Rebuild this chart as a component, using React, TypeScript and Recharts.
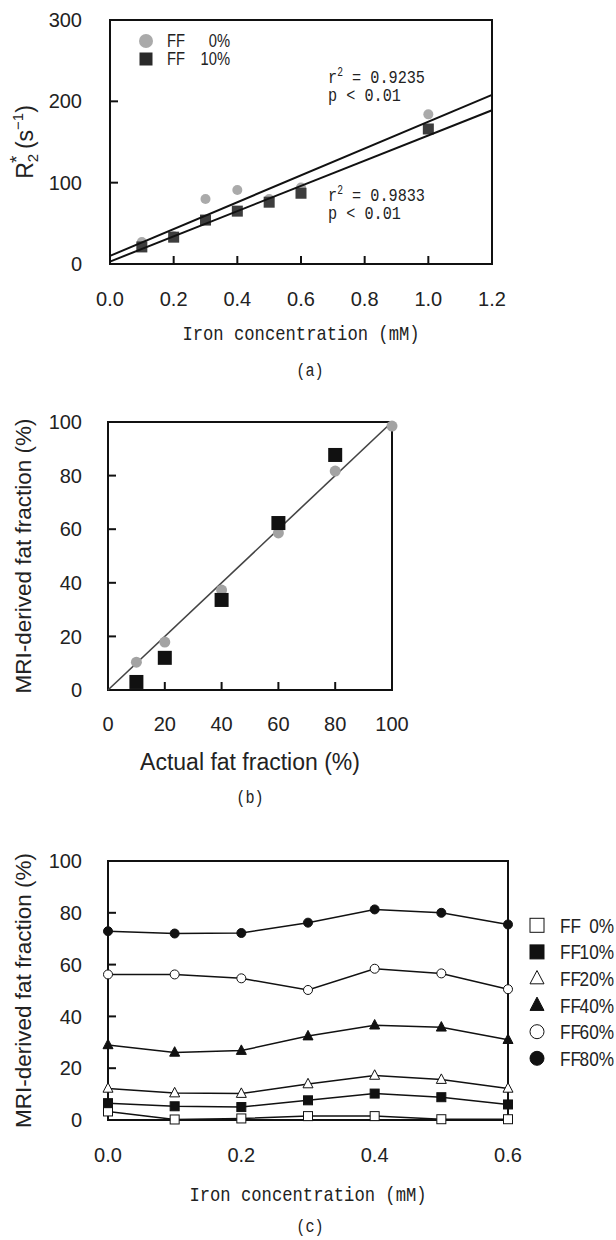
import React from 'react';
import {
  ScatterChart, Scatter, LineChart, Line, XAxis, YAxis,
  ReferenceArea, ReferenceDot, Legend, Label,
} from 'recharts';

// (a) R2* against iron concentration
const ironA = [0.1, 0.2, 0.3, 0.4, 0.5, 0.6, 1.0];
const r2FF0 = [27, 34, 80, 91, 80, 94, 184];
const r2FF10 = [21, 33, 54, 65, 76, 87, 166];
const fitXA = [0, 1.2];
const fitFF0 = [10, 208];
const fitFF10 = [3, 189];
const ticksAX = [0, 0.2, 0.4, 0.6, 0.8, 1.0, 1.2];
const ticksAY = [0, 100, 200, 300];
const levelsA = ['0%', '10%'];

// (b) MRI-derived vs actual fat fraction
const actualB = [10, 20, 40, 60, 80, 100];
const mriB0 = [10.4, 17.9, 37.3, 58.6, 81.7, 98.5];
const actualB10 = [10, 20, 40, 60, 80];
const mriB10 = [3, 12, 33.6, 62.3, 87.7];
const identityB = [0, 100];
const ticksB = [0, 20, 40, 60, 80, 100];

// (c) MRI-derived fat fraction against iron concentration
const ironC = [0, 0.1, 0.2, 0.3, 0.4, 0.5, 0.6];
const ff0 = [3.3, 0.2, 0.6, 1.5, 1.5, 0.3, 0.3];
const ff10 = [6.5, 5.3, 5.0, 7.6, 10.2, 8.8, 6.0];
const ff20 = [12.2, 10.4, 10.2, 13.9, 17.2, 15.6, 12.2];
const ff40 = [29.0, 26.1, 26.8, 32.4, 36.6, 35.8, 31.0];
const ff60 = [56.2, 56.2, 54.7, 50.2, 58.4, 56.6, 50.5];
const ff80 = [72.9, 72.0, 72.2, 76.2, 81.3, 80.0, 75.5];
const levelsC = ['0%', '10%', '20%', '40%', '60%', '80%'];
const ticksCX = [0, 0.2, 0.4, 0.6];
const ticksCY = [0, 20, 40, 60, 80, 100];

const INK = '#111';
const SANS = "'Liberation Sans', Arial, sans-serif";
const MONO = "'Liberation Mono', 'DejaVu Sans Mono', monospace";
const tickStyle = { fill: '#222', fontSize: 20, fontFamily: SANS };

const pts = (xs: number[], ys: number[]) => xs.map((x, i) => ({ x, y: ys[i] }));

const rowsC = ironC.map((x, i) => ({
  x, ff0: ff0[i], ff10: ff10[i], ff20: ff20[i], ff40: ff40[i], ff60: ff60[i], ff80: ff80[i],
}));

type Kind = 'circle' | 'square' | 'triangle';
const markersC: { key: string; kind: Kind; filled: boolean }[] = [
  { key: 'ff0', kind: 'square', filled: false },
  { key: 'ff10', kind: 'square', filled: true },
  { key: 'ff20', kind: 'triangle', filled: false },
  { key: 'ff40', kind: 'triangle', filled: true },
  { key: 'ff60', kind: 'circle', filled: false },
  { key: 'ff80', kind: 'circle', filled: true },
];

const Marker = ({ kind, fill, cx, cy, s, stroke = INK }: any) => {
  if (kind === 'circle') return <circle cx={cx} cy={cy} r={s / 2} fill={fill} stroke={stroke} strokeWidth={1} />;
  if (kind === 'square') return <rect x={cx - s / 2} y={cy - s / 2} width={s} height={s} fill={fill} stroke={stroke} strokeWidth={1} />;
  const h = s * 0.95;
  return (
    <polygon
      points={`${cx},${cy - h * 0.6} ${cx - s / 2},${cy + h * 0.4} ${cx + s / 2},${cy + h * 0.4}`}
      fill={fill} stroke={stroke} strokeWidth={1}
    />
  );
};

const noDot = () => <g />;

// squeezed text, used for the gothic-looking mono labels and the narrow legend text
const Squeezed = ({ x, y, sx, anchor = 'start', family = MONO, size, children }: any) => (
  <text transform={`translate(${x},${y}) scale(${sx},1)`} textAnchor={anchor} fontFamily={family} fontSize={size} fill="#222">
    {children}
  </text>
);

// axis title + panel caption under an x axis
const xTitle = (text: string, mono: boolean, dy: number, caption: string, capDy: number, capDx: number) =>
  (props: any) => {
    const { viewBox } = props;
    const cx = viewBox.x + viewBox.width / 2;
    return (
      <g>
        {mono
          ? <Squeezed x={cx} y={viewBox.y + dy} sx={0.86} anchor="middle" size={20}>{text}</Squeezed>
          : <text x={cx} y={viewBox.y + dy} textAnchor="middle" fontFamily={SANS} fontSize={23} fill="#222">{text}</text>}
        <Squeezed x={cx + capDx} y={viewBox.y + capDy} sx={0.8} anchor="middle" size={19}>{caption}</Squeezed>
      </g>
    );
  };

const yTitle = (text: string) => (props: any) => {
  const { viewBox } = props;
  const x = viewBox.x + 31;
  const y = viewBox.y + viewBox.height / 2;
  return (
    <text transform={`translate(${x},${y}) rotate(-90)`} textAnchor="middle" fontFamily={SANS} fontSize={22.5} fill="#222">
      {text}
    </text>
  );
};

const r2Title = (props: any) => {
  const { viewBox } = props;
  const x = viewBox.x + 33;
  const y = viewBox.y + viewBox.height / 2;
  return (
    <text transform={`translate(${x},${y}) rotate(-90)`} textAnchor="middle" fontFamily={SANS} fontSize={23} fill="#222">
      R<tspan fontSize={15} dy={5}>2</tspan>
      <tspan fontSize={19} dx={-9} dy={-15}>*</tspan>
      <tspan dy={10}>{'\u00a0(s'}</tspan>
      <tspan fontSize={15} dy={-10}>−1</tspan>
      <tspan dy={10}>)</tspan>
    </text>
  );
};

const fitNote = (r2: string) => (props: any) => {
  const { viewBox } = props;
  const x = viewBox.x;
  const y = viewBox.y;
  return (
    <g>
      <Squeezed x={x} y={y} sx={0.8} size={19}>
        r<tspan fontSize={12} dy={-7}>2</tspan><tspan dy={7}>{` = ${r2}`}</tspan>
      </Squeezed>
      <Squeezed x={x} y={y + 18} sx={0.8} size={19}>p &lt; 0.01</Squeezed>
    </g>
  );
};

// legend: marker, "FF" and a right-aligned level, in a narrow face
const LegendBox = ({ markers, levels, rowH, size, ffX, valX, width }: any) => (
  <svg width={width} height={rowH * levels.length} style={{ display: 'block', overflow: 'visible' }}>
    {levels.map((lv: string, i: number) => {
      const cy = rowH * (i + 0.5);
      return (
        <g key={lv}>
          {markers[i](8, cy)}
          <Squeezed x={ffX} y={cy + size * 0.36} sx={0.82} family={SANS} size={size}>FF</Squeezed>
          <Squeezed x={valX} y={cy + size * 0.36} sx={0.82} family={SANS} size={size} anchor="end">{lv}</Squeezed>
        </g>
      );
    })}
  </svg>
);

const markersA = [
  (cx: number, cy: number) => <circle cx={cx} cy={cy} r={7} fill="#aaa" />,
  (cx: number, cy: number) => <rect x={cx - 6.5} y={cy - 6.5} width={13} height={13} fill="#2a2a2a" />,
];

const legendMarkersC = markersC.map((m) => (cx: number, cy: number) => (
  <Marker kind={m.kind} fill={m.filled ? INK : '#fff'} cx={cx} cy={cy} s={14} />
));

const PanelA = () => (
  <ScatterChart width={616} height={390} margin={{ top: 20, right: 124, bottom: 96, left: 0 }}>
    <XAxis
      type="number" dataKey="x" domain={[0, 1.2]} ticks={ticksAX} height={30}
      tickFormatter={(v: number) => v.toFixed(1)} tick={tickStyle}
      tickSize={-8} tickMargin={36} axisLine={{ stroke: INK, strokeWidth: 2 }} tickLine={{ stroke: INK, strokeWidth: 2 }}
    >
      <Label content={xTitle('Iron concentration (mM)', true, 76, '(a)', 112, 9)} />
    </XAxis>
    <YAxis
      type="number" dataKey="y" domain={[0, 300]} ticks={ticksAY} width={110} tick={tickStyle}
      tickSize={-8} tickMargin={36} axisLine={{ stroke: INK, strokeWidth: 2 }} tickLine={{ stroke: INK, strokeWidth: 2 }}
    >
      <Label content={r2Title} />
    </YAxis>
    <ReferenceArea x1={0} x2={1.2} y1={0} y2={300} fill="none" stroke={INK} strokeWidth={2} ifOverflow="visible" />
    <Scatter data={pts(ironA, r2FF0)} isAnimationActive={false}
      shape={(p: any) => <circle cx={p.cx} cy={p.cy} r={5} fill="#aaa" />} />
    <Scatter data={pts(ironA, r2FF10)} isAnimationActive={false}
      shape={(p: any) => <rect x={p.cx - 5.5} y={p.cy - 5.5} width={11} height={11} fill="#3d3d3d" />} />
    <Scatter data={pts(fitXA, fitFF0)} isAnimationActive={false} line={{ stroke: INK, strokeWidth: 2 }} shape={noDot} />
    <Scatter data={pts(fitXA, fitFF10)} isAnimationActive={false} line={{ stroke: INK, strokeWidth: 2 }} shape={noDot} />
    <ReferenceDot x={0.685} y={223} r={0} ifOverflow="visible" label={fitNote('0.9235')} />
    <ReferenceDot x={0.685} y={77} r={0} ifOverflow="visible" label={fitNote('0.9833')} />
    <Legend layout="horizontal" align="center" verticalAlign="middle"
      wrapperStyle={{ left: 138, top: 32, width: 100 }}
      content={() => <LegendBox markers={markersA} levels={levelsA} rowH={18} size={18} ffX={29} valX={92} width={100} />} />
  </ScatterChart>
);

const PanelB = () => (
  <ScatterChart width={616} height={430} margin={{ top: 42, right: 224, bottom: 90, left: 0 }}>
    <XAxis
      type="number" dataKey="x" domain={[0, 100]} ticks={ticksB} height={30} tick={tickStyle}
      tickSize={-8} tickMargin={35} axisLine={{ stroke: INK, strokeWidth: 2 }} tickLine={{ stroke: INK, strokeWidth: 2 }}
    >
      <Label content={xTitle('Actual fat fraction (%)', false, 80, '(b)', 113, 0)} />
    </XAxis>
    <YAxis
      type="number" dataKey="y" domain={[0, 100]} ticks={ticksB} width={108} tick={tickStyle}
      tickSize={-8} tickMargin={34} axisLine={{ stroke: INK, strokeWidth: 2 }} tickLine={{ stroke: INK, strokeWidth: 2 }}
    >
      <Label content={yTitle('MRI-derived fat fraction (%)')} />
    </YAxis>
    <ReferenceArea x1={0} x2={100} y1={0} y2={100} fill="none" stroke={INK} strokeWidth={2} ifOverflow="visible" />
    <Scatter data={pts(identityB, identityB)} isAnimationActive={false} line={{ stroke: '#444', strokeWidth: 1.6 }} shape={noDot} />
    <Scatter data={pts(actualB, mriB0)} isAnimationActive={false}
      shape={(p: any) => <circle cx={p.cx} cy={p.cy} r={5.5} fill="#a3a3a3" />} />
    <Scatter data={pts(actualB10, mriB10)} isAnimationActive={false}
      shape={(p: any) => <rect x={p.cx - 7} y={p.cy - 7} width={14} height={14} fill={INK} />} />
  </ScatterChart>
);

const PanelC = () => (
  <LineChart width={616} height={420} data={rowsC} margin={{ top: 41, right: 108, bottom: 90, left: 0 }}>
    <XAxis
      type="number" dataKey="x" domain={[0, 0.6]} ticks={ticksCX} height={30}
      tickFormatter={(v: number) => v.toFixed(1)} tick={tickStyle}
      tickSize={-8} tickMargin={36} tickLine={false} axisLine={{ stroke: INK, strokeWidth: 2 }}
    >
      <Label content={xTitle('Iron concentration (mM)', true, 81, '(c)', 112, 2)} />
    </XAxis>
    <YAxis
      type="number" domain={[0, 100]} ticks={ticksCY} width={108} tick={tickStyle}
      tickSize={-8} tickMargin={34} axisLine={{ stroke: INK, strokeWidth: 2 }} tickLine={{ stroke: INK, strokeWidth: 2 }}
    >
      <Label content={yTitle('MRI-derived fat fraction (%)')} />
    </YAxis>
    <ReferenceArea x1={0} x2={0.6} y1={0} y2={100} fill="none" stroke={INK} strokeWidth={2} ifOverflow="visible" />
    {markersC.map((m) => (
      <Line
        key={m.key} dataKey={m.key} type="linear" stroke={INK} strokeWidth={1.5} isAnimationActive={false}
        dot={(p: any) => (
          <Marker key={`${m.key}-${p.index}`} kind={m.kind} fill={m.filled ? INK : '#fff'} cx={p.cx} cy={p.cy}
            s={m.kind === 'triangle' ? 10 : 9} />
        )}
      />
    ))}
    <Legend layout="horizontal" align="center" verticalAlign="middle"
      wrapperStyle={{ left: 529, top: 91.7, width: 87 }}
      content={() => <LegendBox markers={legendMarkersC} levels={levelsC} rowH={26.6} size={21} ffX={31} valX={85} width={87} />} />
  </LineChart>
);

export default function App() {
  return (
    <div style={{ position: 'absolute', left: 0, top: 0, width: 616, height: 1240, background: '#fff' }}>
      <div style={{ position: 'absolute', left: 0, top: 0 }}><PanelA /></div>
      <div style={{ position: 'absolute', left: 0, top: 380 }}><PanelB /></div>
      <div style={{ position: 'absolute', left: 0, top: 820 }}><PanelC /></div>
    </div>
  );
}
